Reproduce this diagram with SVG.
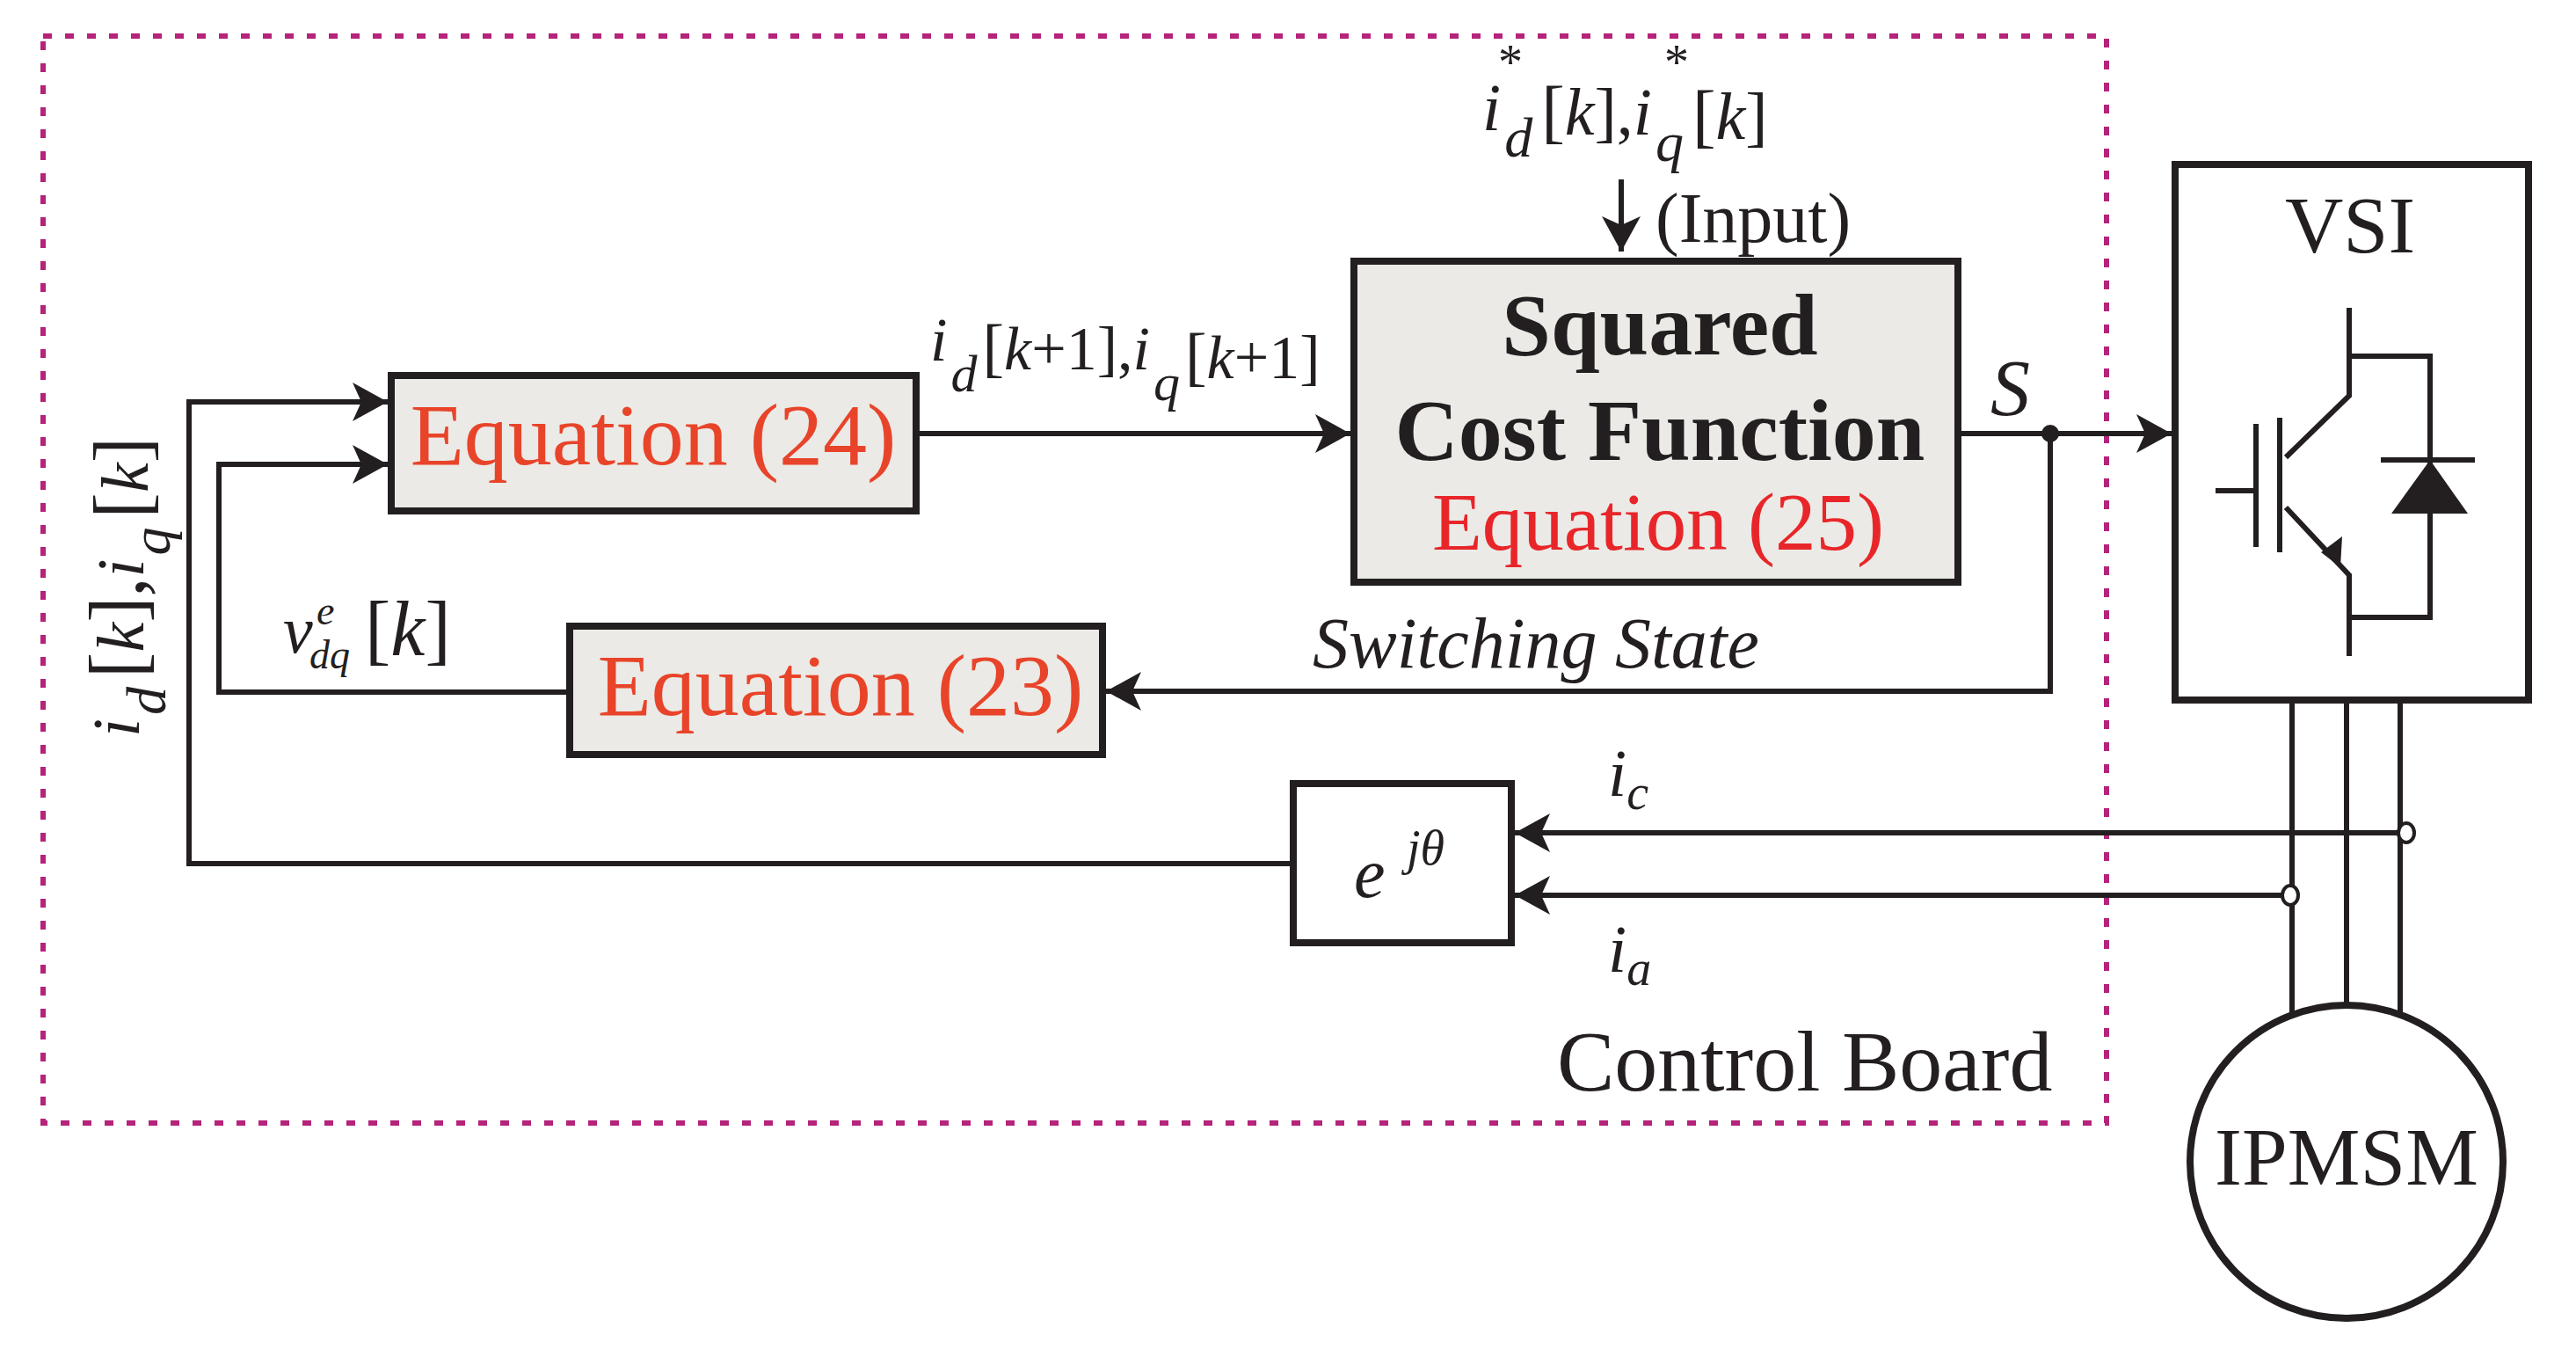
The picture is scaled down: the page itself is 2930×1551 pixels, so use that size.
<svg xmlns="http://www.w3.org/2000/svg" width="2930" height="1551" viewBox="0 0 2930 1551">
<style>
.ln{fill:none;stroke:#231f20;stroke-width:6}
.bx{fill:#ebeae6;stroke:#231f20;stroke-width:8}
.wb{fill:#fff;stroke:#231f20;stroke-width:8}
text{font-family:"Liberation Serif","Times New Roman",serif;fill:#231f20}
.it{font-style:italic}
.red{fill:#e8442a}
</style>
<defs>
<marker id="ar" markerUnits="userSpaceOnUse" markerWidth="50" markerHeight="50" refX="40" refY="22" orient="auto">
<path d="M0,0 L40,22 L0,44 L10,22 Z" fill="#231f20"/>
</marker>
</defs>
<rect width="2930" height="1551" fill="#fff"/>
<rect x="49" y="41" width="2347" height="1236" fill="none" stroke="#b5237a" stroke-width="6" stroke-dasharray="10 15"/>

<g id="connectors">
<path class="ln" d="M1471,982 H215 V457 H441" marker-end="url(#ar)"/>
<path class="ln" d="M648,787 H249 V528 H441" marker-end="url(#ar)"/>
<path class="ln" d="M1042,493 H1536" marker-end="url(#ar)"/>
<path class="ln" d="M2227,493 H2470" marker-end="url(#ar)"/>
<path class="ln" d="M2332,493 V786 H1258" marker-end="url(#ar)"/>
<path class="ln" d="M1844,204 V286" marker-end="url(#ar)"/>
<path class="ln" d="M2737,947 H1723" marker-end="url(#ar)"/>
<path class="ln" d="M2605,1018 H1723" marker-end="url(#ar)"/>
<circle cx="2332" cy="493" r="10" fill="#231f20"/>
<path class="ln" stroke-width="7" d="M2607,796 V1152 M2669,796 V1141 M2730,796 V1152"/>
<ellipse cx="2737" cy="947" rx="9" ry="11" fill="#fff" stroke="#231f20" stroke-width="4"/>
<ellipse cx="2605" cy="1018" rx="9" ry="11" fill="#fff" stroke="#231f20" stroke-width="4"/>
</g>

<g id="eq24">
<rect class="bx" x="445" y="427" width="597" height="154"/>
<text class="red" x="743" y="528" font-size="100" text-anchor="middle">Equation (24)</text>
</g>
<g id="eq23">
<rect class="bx" x="648" y="712" width="606" height="146"/>
<text class="red" x="956" y="813" font-size="100" text-anchor="middle">Equation (23)</text>
</g>
<g id="cost">
<rect class="bx" x="1540" y="297" width="687" height="365"/>
<text x="1888" y="403" font-size="100" font-weight="bold" text-anchor="middle">Squared</text>
<text x="1888" y="523" font-size="100" font-weight="bold" text-anchor="middle">Cost Function</text>
<text x="1886" y="625" font-size="93" text-anchor="middle" style="fill:#e8262a">Equation (25)</text>
</g>
<g id="ejt">
<rect class="wb" x="1471" y="891" width="248" height="181"/>
<text class="it" x="1540" y="1020" font-size="80">e</text>
<text class="it" x="1600" y="983" font-size="56">jθ</text>
</g>
<g id="vsi">
<rect class="wb" x="2474" y="187" width="402" height="609"/>
<text x="2673" y="287" font-size="92" text-anchor="middle">VSI</text>
<path class="ln" stroke-width="7" d="M2672,350 V450 L2600,520 M2593,475 V628 M2566,482 V622 M2520,558 H2566 M2600,577 L2672,654 V746 M2672,405 H2764 V702 H2672 M2708,523 H2815"/>
<path d="M2764,523 L2720,584 H2807 Z" fill="#231f20"/>
<path d="M2662,645 L2640,628 L2664,610 Z" fill="#231f20"/>
</g>
<g id="motor">
<circle cx="2669" cy="1321" r="178" fill="#fff" stroke="#231f20" stroke-width="8"/>
<text x="2669" y="1347" font-size="93" text-anchor="middle">IPMSM</text>
</g>

<g id="labels">
<text class="it" x="1058" y="410" font-size="70">i<tspan font-size="60" dx="4" dy="35">d</tspan><tspan font-style="normal" dy="-25" font-size="74" dx="6">[</tspan><tspan>k</tspan><tspan font-style="normal">+1],</tspan><tspan>i</tspan><tspan font-size="60" dx="4" dy="35">q</tspan><tspan font-style="normal" dy="-25" font-size="74" dx="6">[</tspan><tspan>k</tspan><tspan font-style="normal">+1]</tspan></text>
<text class="it" x="1686" y="148" font-size="76">i<tspan font-size="64" dx="4" dy="30">d</tspan><tspan font-style="normal" dy="-25" font-size="80" dx="10">[</tspan><tspan>k</tspan><tspan font-style="normal">],</tspan><tspan>i</tspan><tspan font-size="64" dx="4" dy="30">q</tspan><tspan font-style="normal" dy="-25" font-size="80" dx="10">[</tspan><tspan>k</tspan><tspan font-style="normal">]</tspan></text>
<text x="1704" y="90" font-size="56">*</text>
<text x="1893" y="90" font-size="56">*</text>
<text x="1883" y="275" font-size="80">(Input)</text>
<text class="it" x="2264" y="472" font-size="90">S</text>
<text class="it" x="1493" y="759" font-size="82">Switching State</text>
<text class="it" x="322" y="742" font-size="76">v</text>
<text class="it" x="360" y="710" font-size="46">e</text>
<text class="it" x="352" y="760" font-size="46">dq</text>
<text x="415" y="745" font-size="88">[<tspan font-style="italic">k</tspan>]</text>
<text class="it" transform="translate(158,838) rotate(-90)" font-size="76">i<tspan font-size="64" dx="4" dy="30">d</tspan><tspan font-style="normal" dy="-25" font-size="88" dx="10">[</tspan><tspan>k</tspan><tspan font-style="normal" font-size="88">],</tspan><tspan>i</tspan><tspan font-size="64" dx="4" dy="30">q</tspan><tspan font-style="normal" dy="-25" font-size="88" dx="10">[</tspan><tspan>k</tspan><tspan font-style="normal" font-size="88">]</tspan></text>
<text class="it" x="1829" y="905" font-size="76">i<tspan font-size="56" dy="15">c</tspan></text>
<text class="it" x="1829" y="1105" font-size="76">i<tspan font-size="56" dy="15">a</tspan></text>
<text x="1771" y="1240" font-size="98">Control Board</text>
</g>
</svg>
